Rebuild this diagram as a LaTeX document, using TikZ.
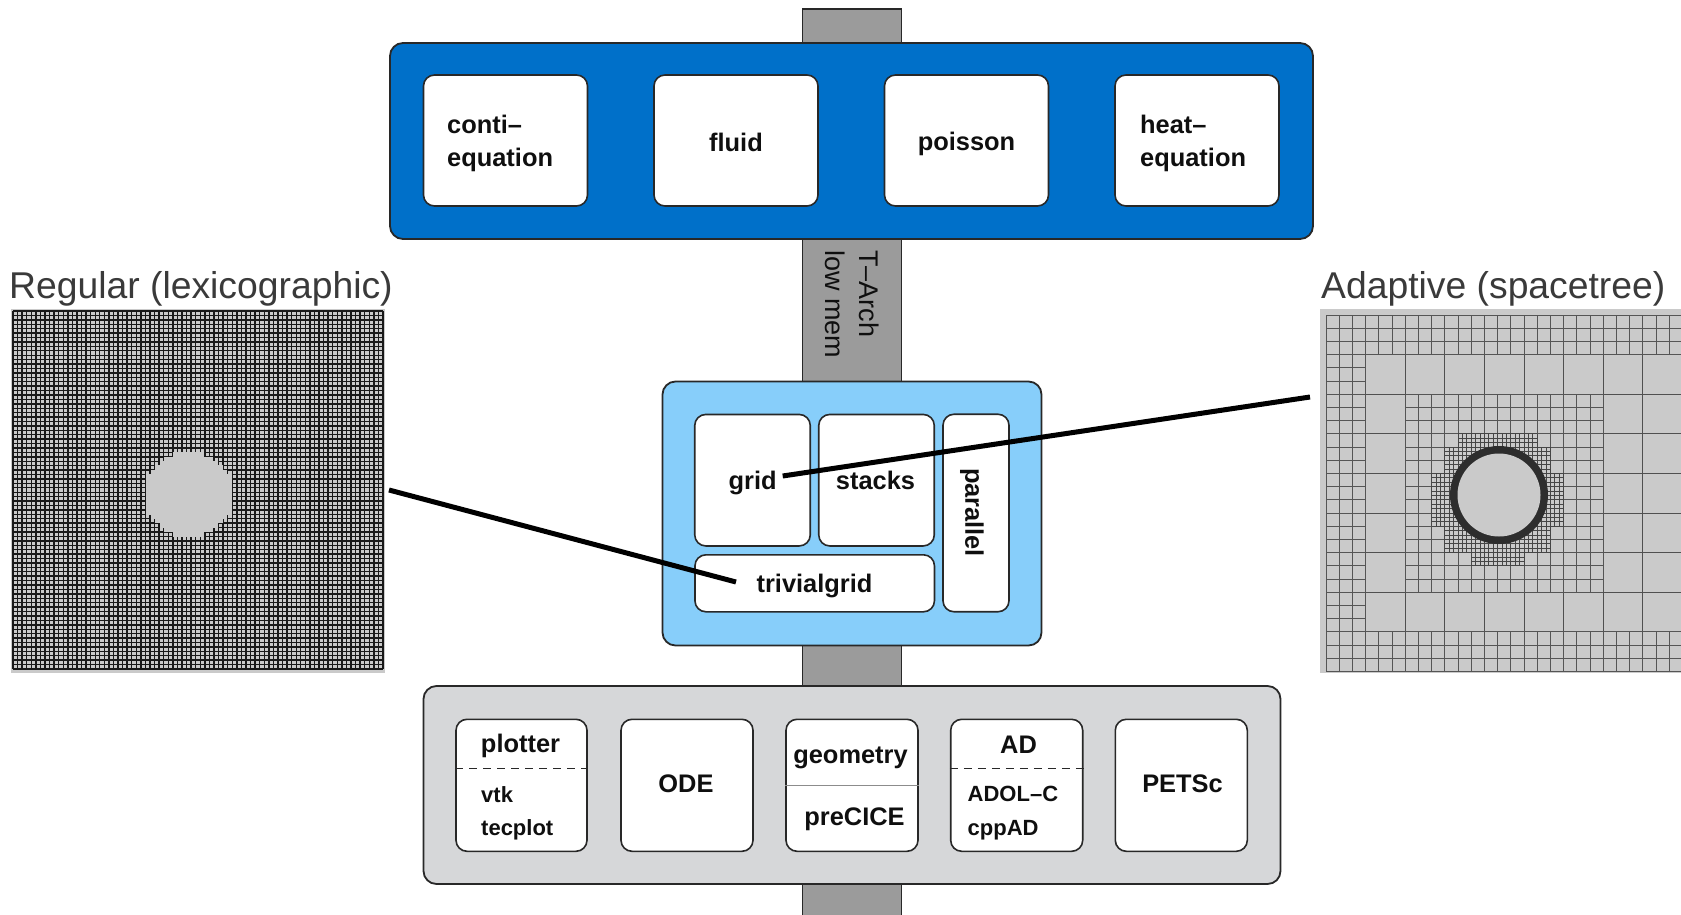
\documentclass[tikz,border=0pt]{standalone}
\usepackage{fontspec}
\setmainfont{Liberation Sans}
\usetikzlibrary{calc}
\definecolor{topblue}{RGB}{0,112,201}
\definecolor{midblue}{RGB}{135,206,250}
\definecolor{barfill}{RGB}{155,155,155}
\definecolor{lowfill}{RGB}{214,215,217}
\definecolor{edgec}{RGB}{40,40,40}
\definecolor{imgbg}{RGB}{202,202,202}
\definecolor{lblc}{RGB}{58,58,58}
\definecolor{txtc}{RGB}{15,15,15}
\definecolor{lexline}{RGB}{25,25,25}
\definecolor{gtwo}{RGB}{80,80,80}
\definecolor{gthree}{RGB}{85,85,85}
\definecolor{gfour}{RGB}{70,70,70}
\definecolor{ringc}{RGB}{45,45,45}
\definecolor{sepc}{RGB}{140,140,140}
\newcommand{\cellgrid}[6]{%
  \foreach \kk in {0,...,#4}{\draw[#6] ({#1+\kk*#3},{#2}) -- ({#1+\kk*#3},{#2+#5*#3});}%
  \foreach \kk in {0,...,#5}{\draw[#6] ({#1},{#2+\kk*#3}) -- ({#1+#4*#3},{#2+\kk*#3});}%
}
\begin{document}
\begin{tikzpicture}[x=1pt,y=-1pt,
  outer/.style={draw=edgec,line width=1.8pt,rounded corners=13pt,inner sep=0pt},
  inbox/.style={draw=edgec,line width=1.6pt,fill=white,rounded corners=11pt,inner sep=0pt},
  big/.style={font=\fontsize{25.4}{32}\selectfont\bfseries,text=txtc,inner sep=0pt},
  small/.style={font=\fontsize{22}{26}\selectfont\bfseries,text=txtc,inner sep=0pt},
  caption/.style={font=\fontsize{37.3}{44}\selectfont,text=lblc,inner sep=0pt,anchor=base west},
  conn/.style={line width=5pt,black},
  lexgrid/.style={line width=1.4pt,lexline},
  gl2/.style={line width=1.0pt,gtwo},
  gl3/.style={line width=1.0pt,gthree},
  gl4/.style={line width=0.85pt,gfour},
  dashsep/.style={line width=1.5pt,edgec,dash pattern=on 8pt off 6pt},
  solidsep/.style={line width=1.2pt,sepc}
]
\useasboundingbox (0,0) rectangle (1681,915);
\fill[white] (0,0) rectangle (1681,915);

% ---------------- left image: regular grid ----------------
\begin{scope}
  \clip (11,309) rectangle (385,673);
  \fill[imgbg] (11,309) rectangle (385,673);
  \foreach \i in {0,...,81}{\draw[lexgrid] ({13+\i*4.5679},311) -- ({13+\i*4.5679},669);}
  \foreach \i in {0,...,81}{\draw[lexgrid] (13,{311+\i*4.4198}) -- (383,{311+\i*4.4198});}
  \foreach \j in {-9,...,9}{
    \pgfmathsetmacro\nn{round(sqrt(9.4*9.4-\j*\j))}
    \fill[imgbg] ({13+(38-\nn)*4.5679+0.5},{311+(41+\j)*4.4198-0.3}) rectangle ({13+(39+\nn)*4.5679-0.5},{311+(42+\j)*4.4198+0.3});
  }
\end{scope}

% ---------------- right image: adaptive spacetree ----------------
\begin{scope}
  \clip (1320,309) rectangle (1681,673);
  \fill[imgbg] (1320,309) rectangle (1681,673);
  \cellgrid{1326}{315}{39.6}{9}{9}{gl2}
  \cellgrid{1326}{315}{13.2}{27}{3}{gl3}
  \cellgrid{1326}{631.8}{13.2}{27}{3}{gl3}
  \cellgrid{1326}{315}{13.2}{3}{27}{gl3}
  \cellgrid{1405.2}{394.2}{13.2}{15}{15}{gl3}
  \cellgrid{1458}{433.8}{4.4}{18}{3}{gl4}
  \cellgrid{1444.8}{447}{4.4}{24}{6}{gl4}
  \cellgrid{1431.6}{473.4}{4.4}{30}{12}{gl4}
  \cellgrid{1444.8}{526.2}{4.4}{24}{6}{gl4}
  \cellgrid{1471.2}{552.6}{4.4}{12}{3}{gl4}
  \fill[ringc] (1499,495) circle[radius=49];
  \fill[imgbg] (1499,495) circle[radius=41.5];
\end{scope}

% captions
\node[caption] (regcap) at (9,298) {Regular (lexicographic)};
\node[caption] (adacap) at (1321,298) {Adaptive (spacetree)};

% ---------------- central bar ----------------
\node[draw=edgec,fill=barfill,line width=1.6pt,inner sep=0pt,minimum width=99pt,minimum height=926pt] (bar) at (852,472) {};

% ---------------- top layer ----------------
\node[outer,fill=topblue,minimum width=923pt,minimum height=196pt] (apps) at (851.5,141) {};
\node[inbox,minimum width=164pt,minimum height=131pt] (conti) at (505.5,140.5) {};
\node[inbox,minimum width=164pt,minimum height=131pt] (fluid) at (736,140.5) {};
\node[inbox,minimum width=164pt,minimum height=131pt] (poisson) at (966.5,140.5) {};
\node[inbox,minimum width=164pt,minimum height=131pt] (heat) at (1197,140.5) {};
\node[big,anchor=base west] (tconti1) at (447,134) {conti\textendash};
\node[big,anchor=base west] (tconti2) at (447,166) {equation};
\node[big,anchor=base] (tfluid) at (736,151) {fluid};
\node[big,anchor=base] (tpoisson) at (966.5,150) {poisson};
\node[big,anchor=base west] (theat1) at (1140,134) {heat\textendash};
\node[big,anchor=base west] (theat2) at (1140,166) {equation};

% bar label
\node[rotate=-90,anchor=north west,align=left,inner sep=0pt,text=txtc,font=\fontsize{27}{34}\selectfont] (tarch) at (879,250) {T\textendash Arch\\low mem};

% ---------------- middle layer ----------------
\node[outer,fill=midblue,minimum width=379pt,minimum height=264pt] (kernel) at (852,513.5) {};
\node[inbox,minimum width=115.5pt,minimum height=131.5pt] (gridb) at (752.5,480.2) {};
\node[inbox,minimum width=115.5pt,minimum height=131.5pt] (stacks) at (876.5,480.2) {};
\node[inbox,minimum width=66pt,minimum height=197.5pt] (parallel) at (976,513) {};
\node[inbox,minimum width=239.5pt,minimum height=57pt] (trivial) at (814.7,583.3) {};
\node[big,anchor=base] (tgrid) at (752.7,489) {grid};
\node[big,anchor=base] (tstacks) at (875.5,489) {stacks};
\node[big,anchor=base] (ttrivial) at (814.5,592) {trivialgrid};
\node[big,rotate=-90] (tparallel) at (972,512.5) {parallel};

% ---------------- bottom layer ----------------
\node[outer,fill=lowfill,minimum width=857pt,minimum height=198pt] (libs) at (852,785) {};
\node[inbox,minimum width=131pt,minimum height=132pt] (plotter) at (521.5,785.3) {};
\node[inbox,minimum width=132pt,minimum height=132pt] (ode) at (687,785.3) {};
\node[inbox,minimum width=132pt,minimum height=132pt] (geom) at (852,785.3) {};
\node[inbox,minimum width=132pt,minimum height=132pt] (ad) at (1016.7,785.3) {};
\node[inbox,minimum width=132pt,minimum height=132pt] (petsc) at (1181.3,785.3) {};

\draw[dashsep] (plotter.west |- 0,768.7) -- (plotter.east |- 0,768.7);
\draw[dashsep] (ad.west |- 0,768.7) -- (ad.east |- 0,768.7);
\draw[solidsep] (geom.west |- 0,785.3) -- (geom.east |- 0,785.3);

\node[big,anchor=base] (tplotter) at (520.5,752) {plotter};
\node[small,anchor=base west] (tvtk) at (481,802.5) {vtk};
\node[small,anchor=base west] (ttecplot) at (481,835) {tecplot};
\node[big,anchor=base] (tode) at (686,792) {ODE};
\node[big,anchor=base] (tgeom) at (850.5,763) {geometry};
\node[big,anchor=base] (tprecice) at (854.5,825) {preCICE};
\node[big,anchor=base] (tad) at (1018.5,753) {AD};
\node[small,anchor=base west] (tadolc) at (967.5,801.5) {ADOL\textendash C};
\node[small,anchor=base west] (tcppad) at (967.5,835) {cppAD};
\node[big,anchor=base] (tpetsc) at (1182.5,792) {PETSc};

% ---------------- connectors ----------------
\coordinate (lexEnd) at (389,490);
\coordinate (trivEnd) at (736,582);
\coordinate (treeEnd) at (1310,397);
\coordinate (gridEnd) at (782.7,476);
\draw[conn] (lexEnd) -- (trivEnd);
\draw[conn] (treeEnd) -- (gridEnd);
\end{tikzpicture}
\end{document}
